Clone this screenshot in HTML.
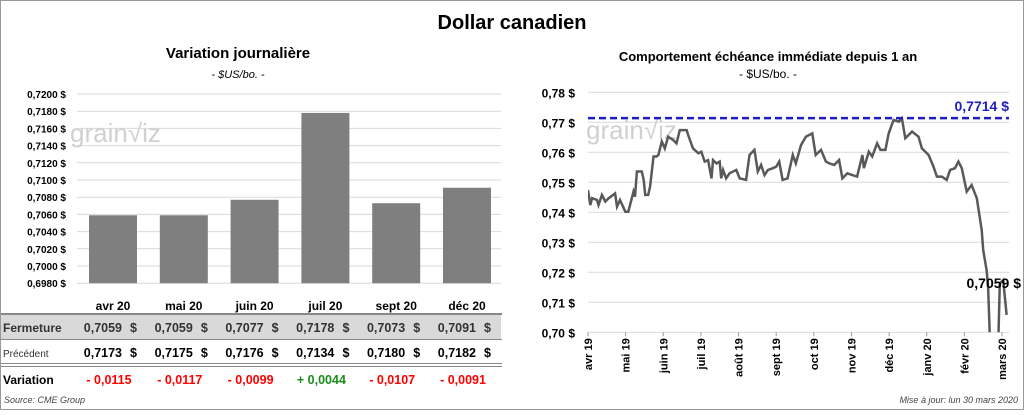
<!DOCTYPE html>
<html><head><meta charset="utf-8"><style>
body{margin:0;width:1024px;height:410px;overflow:hidden;background:#fff;font-family:"Liberation Sans",sans-serif}
svg text{font-family:"Liberation Sans",sans-serif}
</style></head><body>
<svg id="c" width="1024" height="410">
<rect x="0.5" y="0.5" width="1023" height="409" fill="#fff" stroke="#999"/>
<text x="512" y="29" text-anchor="middle" font-size="20" font-weight="bold">Dollar canadien</text>
<text x="238" y="58" text-anchor="middle" font-size="15" font-weight="bold">Variation  journalière</text>
<text x="238" y="78" text-anchor="middle" font-size="11" font-style="italic">- $US/bo. -</text>
<text x="768" y="61" text-anchor="middle" font-size="13" font-weight="bold">Comportement échéance immédiate depuis 1 an</text>
<text x="768" y="78" text-anchor="middle" font-size="12">- $US/bo. -</text>
<g id="left"></g>
<g id="right"></g>
<g id="table"></g>
<text x="4" y="403" font-size="9" font-style="italic" fill="#444">Source: CME Group</text>
<text x="1018" y="403" text-anchor="end" font-size="9" font-style="italic" fill="#444">Mise à jour: lun 30 mars 2020</text>
</svg>
<script>
const barCats=["avr 20","mai 20","juin 20","juil 20","sept 20","déc 20"];
const barClose=[0.7059,0.7059,0.7077,0.7178,0.7073,0.7091];
const barPrev=[0.7173,0.7175,0.7176,0.7134,0.7180,0.7182];
const barVar=[-0.0115,-0.0117,-0.0099,0.0044,-0.0107,-0.0091];
const barTicks=[0.698,0.700,0.702,0.704,0.706,0.708,0.710,0.712,0.714,0.716,0.718,0.720];
const lineMonths=[0,.06,.11,.24,.28,.37,.46,.55,.72,.77,.85,.99,1.07,1.21,1.25,1.30,1.43,1.48,1.52,1.60,1.65,1.74,1.82,1.87,1.96,2.04,2.13,2.26,2.35,2.44,2.62,2.66,2.79,2.93,3.01,3.10,3.19,3.28,3.32,3.41,3.50,3.54,3.59,3.67,3.76,3.94,4.03,4.20,4.29,4.42,4.51,4.60,4.69,4.78,4.91,5.00,5.08,5.17,5.30,5.44,5.52,5.66,5.79,5.96,6.05,6.19,6.32,6.41,6.54,6.67,6.76,6.89,7.02,7.15,7.29,7.33,7.46,7.55,7.68,7.77,7.90,7.99,8.12,8.26,8.34,8.43,8.52,8.61,8.78,8.87,9.05,9.18,9.27,9.40,9.53,9.62,9.75,9.84,9.93,10.06,10.19,10.33,10.46,10.50,10.59,10.63,10.68,10.90,10.94,11.03,11.12];
const lineValues=[.7474,.7424,.7447,.7441,.7424,.7458,.7436,.7447,.7463,.7419,.7441,.7402,.7402,.7469,.7452,.7536,.7536,.7508,.7458,.7458,.7486,.7586,.7586,.7591,.7636,.7613,.7652,.7641,.7630,.7674,.7674,.7658,.7613,.7597,.7602,.7569,.7574,.7513,.7574,.7563,.7569,.7513,.7541,.7513,.7530,.7541,.7513,.7508,.7591,.7608,.7536,.7558,.7524,.7541,.7547,.7552,.7569,.7508,.7513,.7591,.7563,.7624,.7652,.7663,.7591,.7608,.7569,.7563,.7558,.7574,.7513,.7530,.7524,.7519,.7591,.7547,.7602,.7586,.7630,.7608,.7608,.7663,.7708,.7702,.7713,.7647,.7658,.7669,.7652,.7613,.7591,.7552,.7519,.7519,.7508,.7541,.7547,.7569,.7547,.7469,.7491,.7447,.7341,.7274,.7207,.7152,.6970,.6970,.7163,.7174,.7058];
const monthLabels=["avr 19","mai 19","juin 19","juil 19","août 19","sept 19","oct 19","nov 19","déc 19","janv 20","févr 20","mars 20"];
const lineTicks=[0.70,0.71,0.72,0.73,0.74,0.75,0.76,0.77,0.78];
const maxVal=0.7714, lastVal=0.7059;
const NS="http://www.w3.org/2000/svg";
function mk(t,a,p,txt){const e=document.createElementNS(NS,t);for(const k in a)e.setAttribute(k,a[k]);if(txt!==undefined)e.textContent=txt;p.appendChild(e);return e;}
const fmt4=v=>v.toFixed(4).replace('.',',');
const L=document.getElementById('left');
const ly=v=>94+(0.720-v)/0.002*17.2, lx=i=>113+i*70.8;
barTicks.forEach(t=>{
 const g=mk('line',{x1:77,x2:501,y1:ly(t),y2:ly(t),stroke:'#d9d9d9'},L);
 
 
 const tx=mk('text',{x:66,y:ly(t)+4,'text-anchor':'end','font-size':10,'font-weight':'bold'},L,fmt4(t)+' $');
 
 
});
const wm=mk('text',{x:70,y:142,'font-size':26,fill:'#d0d0d0'},L,'grain\u221Aiz');


barCats.forEach((c,i)=>{
 const y=ly(barClose[i]);
 const b=mk('rect',{x:lx(i)-24,y:y,width:48,height:ly(0.698)-y,fill:'#7f7f7f'},L);
 
 
});
const T=document.getElementById('table');
mk('rect',{x:1,y:315,width:500,height:24,fill:'#d9d9d9'},T);
[[314,'#888',2],[339.5,'#888',1],[363.5,'#888',1],[366.5,'#888',1]].forEach(r=>mk('line',{x1:1,x2:502,y1:r[0],y2:r[0],stroke:r[1],'stroke-width':r[2]},T));
mk('text',{x:3,y:332,'font-size':12,'font-weight':'bold',fill:'#333'},T,'Fermeture');
mk('text',{x:3,y:357,'font-size':10,fill:'#333'},T,'Précédent');
mk('text',{x:3,y:384,'font-size':12,'font-weight':'bold'},T,'Variation');
barCats.forEach((c,i)=>{
 const x=lx(i);
 const h=mk('text',{x:x,y:310,'text-anchor':'middle','font-size':12,'font-weight':'bold'},T,c);
 
 
 mk('text',{x:x+9,y:332,'text-anchor':'end','font-size':12.5,'font-weight':'bold',fill:'#333'},T,fmt4(barClose[i]));
 mk('text',{x:x+24,y:332,'text-anchor':'end','font-size':12.5,'font-weight':'bold',fill:'#333'},T,'$');
 mk('text',{x:x+9,y:357,'text-anchor':'end','font-size':12.5,'font-weight':'bold'},T,fmt4(barPrev[i]));
 mk('text',{x:x+24,y:357,'text-anchor':'end','font-size':12.5,'font-weight':'bold'},T,'$');
 const d=barVar[i];
 const v=mk('text',{x:x-4,y:384,'text-anchor':'middle','font-size':12.5,'font-weight':'bold',fill:d<0?'#ff0000':'#1a8c1a'},T,(d<0?'- ':'+ ')+fmt4(Math.abs(d)));
 
 
});
const R=document.getElementById('right');
const ry=v=>92.3+(0.78-v)/0.01*30, rx=m=>588+m*37.64;
lineTicks.forEach(t=>{
 const g=mk('line',{x1:588,x2:1009,y1:ry(t),y2:ry(t),stroke:'#d9d9d9'},R);
 
 
 const tx=mk('text',{x:575,y:ry(t)+5,'text-anchor':'end','font-size':12,'font-weight':'bold'},R,t.toFixed(2).replace('.',',')+' $');
 
 
});
const wm2=mk('text',{x:586,y:139,'font-size':26,fill:'#d0d0d0'},R,'grain\u221Aiz');


monthLabels.forEach((m,i)=>{
 const x=rx(i);
 mk('line',{x1:x,x2:x,y1:ry(0.70),y2:ry(0.70)+4,stroke:'#999'},R);
 const t=mk('text',{transform:`translate(${x+4},${ry(0.70)+6}) rotate(-90)`,'text-anchor':'end','font-size':11,'font-weight':'bold'},R,m);
 
 
});
const cp=mk('clipPath',{id:'cp'},R);mk('rect',{x:588,y:80,width:424,height:ry(0.70)-80},cp);
let d='';lineMonths.forEach((m,i)=>{d+=(i?'L':'M')+rx(m).toFixed(1)+','+ry(lineValues[i]).toFixed(1);});
const ln=mk('path',{d:d,fill:'none',stroke:'#595959','stroke-width':2.5,'clip-path':'url(#cp)'},R);


const hl=mk('line',{x1:588,x2:1009,y1:ry(maxVal),y2:ry(maxVal),stroke:'#1f1fbf','stroke-width':2.5,'stroke-dasharray':'7,4'},R);


const ml=mk('text',{x:1009,y:ry(maxVal)-7,'text-anchor':'end','font-size':14,'font-weight':'bold',fill:'#1f1fbf'},R,fmt4(maxVal)+' $');


const ll=mk('text',{x:1021,y:ry(0.7165)+5,'text-anchor':'end','font-size':14,'font-weight':'bold'},R,fmt4(lastVal)+' $');


</script>
</body></html>
